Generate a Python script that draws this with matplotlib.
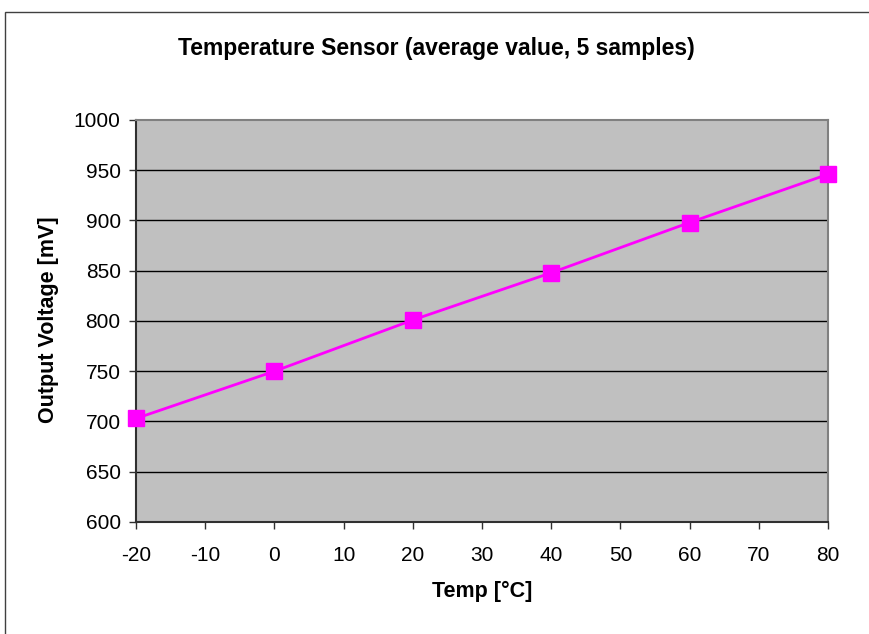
import matplotlib.pyplot as plt
from matplotlib.patches import Rectangle

temp = [-20, 0, 20, 40, 60, 80]
voltage = [703, 750, 801, 848, 898, 946]

x_ticks = list(range(-20, 81, 10))
y_ticks = list(range(600, 1001, 50))

plt.rcParams['font.family'] = ['Liberation Sans', 'DejaVu Sans']
plt.rcParams['axes.unicode_minus'] = False

fig = plt.figure(figsize=(8.69, 6.34), dpi=100)

# outer chart border (cropped at right and bottom)
fig.patches.append(Rectangle((5 / 869, -0.1), 1.2, (634 - 12) / 634 + 0.1,
                             transform=fig.transFigure, fill=False,
                             edgecolor='#404040', linewidth=1.0))

ax = fig.add_axes([136 / 869, 1 - 522 / 634, (828 - 136) / 869, (522 - 120) / 634])
ax.set_facecolor('#C0C0C0')

for y in y_ticks[1:-1]:
    ax.axhline(y, color='black', linewidth=1.0, zorder=1)

ax.plot(temp, voltage, color='#FF00FF', linewidth=2, marker='s', markersize=11,
        markeredgecolor='#FF00FF', clip_on=False, zorder=3)

ax.set_xlim(-20, 80)
ax.set_ylim(600, 1000)
ax.set_xticks(x_ticks)
ax.set_yticks(y_ticks)
ax.tick_params(direction='out', length=5, width=1, labelsize=15, color='#303030')
ax.tick_params(axis='x', pad=12)
ax.tick_params(axis='y', pad=6)

for side in ['left', 'bottom']:
    ax.spines[side].set_color('#303030')
    ax.spines[side].set_linewidth(1.5)
for side in ['right', 'top']:
    ax.spines[side].set_color('#808080')
    ax.spines[side].set_linewidth(1.5)

fig.text(436 / 869, 1 - 49 / 634, 'Temperature Sensor (average value, 5 samples)',
         ha='center', va='center', fontsize=16.5, fontweight='bold')
fig.text(482 / 869, 1 - 591 / 634, 'Temp [°C]',
         ha='center', va='center', fontsize=15.5, fontweight='bold')
fig.text(48.5 / 869, 1 - 320 / 634, 'Output Voltage [mV]', rotation=90,
         ha='center', va='center', fontsize=15.5, fontweight='bold')

fig.savefig('out.png', dpi=100)
